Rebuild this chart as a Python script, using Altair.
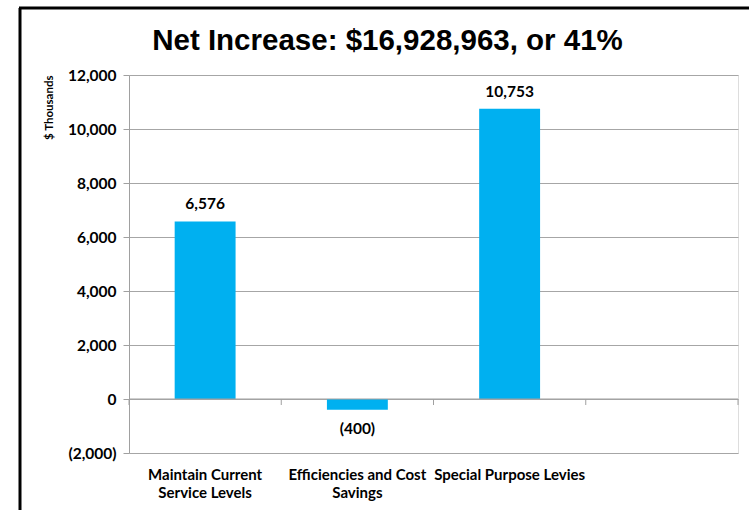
import altair as alt
import pandas as pd

categories = ["Maintain Current Service Levels", "Efficiencies and Cost Savings", "Special Purpose Levies", " "]
values = [6576, -400, 10753, None]
label_lines = [["Maintain Current", "Service Levels"], ["Efficiencies and Cost", "Savings"], ["Special Purpose Levies"], [""]]
y_ticks = [-2000, 0, 2000, 4000, 6000, 8000, 10000, 12000]

df = pd.DataFrame({"cat": categories, "value": values})
df["lbl"] = df["value"].apply(lambda v: "" if pd.isna(v) else (f"({abs(int(v)):,})" if v < 0 else f"{int(v):,}"))
df["pos"] = df["value"].apply(lambda v: "neg" if (not pd.isna(v) and v < 0) else "pos")

label_map = {c: l for c, l in zip(categories, label_lines)}
lbl_expr = "{" + ",".join(f"'{c}': {l}" for c, l in label_map.items()) + "}[datum.value]"

W, H = 609, 378
FONT = "Lato"
STEP = W / 4.0
BAND = STEP * 0.4

x_enc = alt.X("cat:N", sort=categories, scale=alt.Scale(domain=categories, paddingInner=0.6, paddingOuter=0.3),
              axis=alt.Axis(title=None, domain=False, ticks=False, labelAngle=0, labelFont=FONT,
                            labelFontWeight="bold", labelFontSize=15, labelColor="#000",
                            labelPadding=14, labelExpr=lbl_expr, labelLineHeight=18, labelBaseline="top"))
y_scale = alt.Scale(domain=[-2000, 12000], nice=False, zero=False)
y_enc = alt.Y("value:Q", scale=y_scale,
              axis=alt.Axis(title="$ Thousands", values=y_ticks, titleAnchor="end", titleFont=FONT,
                            titleFontWeight="bold", titleFontSize=11.5, titlePadding=13, titleColor="#000",
                            labelFont=FONT, labelFontWeight="bold", labelFontSize=15.5, labelColor="#000",
                            labelPadding=7, domainColor="#a0a0a0", tickColor="#a0a0a0", tickSize=6,
                            grid=True, gridColor="#a6a6a6", gridWidth=1.2,
                            labelExpr="datum.value < 0 ? '(' + format(-datum.value, ',') + ')' : format(datum.value, ',')"))

base = alt.Chart(df)

bars = base.mark_bar(color="#00B0F0").encode(x=x_enc, y=y_enc, y2=alt.datum(0))

text_pos = base.transform_filter("datum.pos == 'pos' && datum.lbl != ''").mark_text(
    dy=-17, font=FONT, fontWeight="bold", fontSize=15.5, color="#000"
).encode(x=alt.X("cat:N", sort=categories), y="value:Q", text="lbl:N")

text_neg = base.transform_filter("datum.pos == 'neg'").mark_text(
    dy=19, font=FONT, fontWeight="bold", fontSize=15.5, color="#000"
).encode(x=alt.X("cat:N", sort=categories), y="value:Q", text="lbl:N")

zero_line = alt.Chart(pd.DataFrame({"z": [0]})).mark_rule(color="#a0a0a0", strokeWidth=1.2).encode(
    y=alt.Y("z:Q", scale=y_scale), x=alt.value(0), x2=alt.value(W))

ticks = base.mark_rule(color="#a0a0a0", y2Offset=6, xOffset=-(STEP - BAND) / 2).encode(
    x=alt.X("cat:N", sort=categories, bandPosition=0), y=alt.datum(0), y2=alt.datum(0))

end_tick = alt.Chart(pd.DataFrame({"z": [0]})).mark_rule(color="#a0a0a0", y2Offset=6).encode(
    x=alt.value(W), y=alt.Y("z:Q", scale=y_scale), y2=alt.datum(0))

frame_left = alt.Chart(pd.DataFrame({"z": [0]})).mark_rule(color="#000", strokeWidth=3).encode(
    x=alt.value(-109), y=alt.value(-67), y2=alt.value(H + 60))
frame_top = alt.Chart(pd.DataFrame({"z": [0]})).mark_rule(color="#000", strokeWidth=3).encode(
    x=alt.value(-110), x2=alt.value(W + 20), y=alt.value(-67))

chart = alt.layer(bars, zero_line, ticks, end_tick, text_pos, text_neg, frame_left, frame_top).properties(
    width=W, height=H,
    title=alt.TitleParams("Net Increase: $16,928,963, or 41%", font="Liberation Sans", fontSize=29.5,
                          fontWeight="bold", color="#000", anchor="middle", dx=-46, offset=-50),
    autosize=alt.AutoSizeParams(type="none"),
    padding={"left": 129, "top": 75, "right": 11, "bottom": 57},
).configure_view(stroke=None).configure(background="white")

chart.save("out.html", embed_options={"renderer": "svg", "actions": False})
